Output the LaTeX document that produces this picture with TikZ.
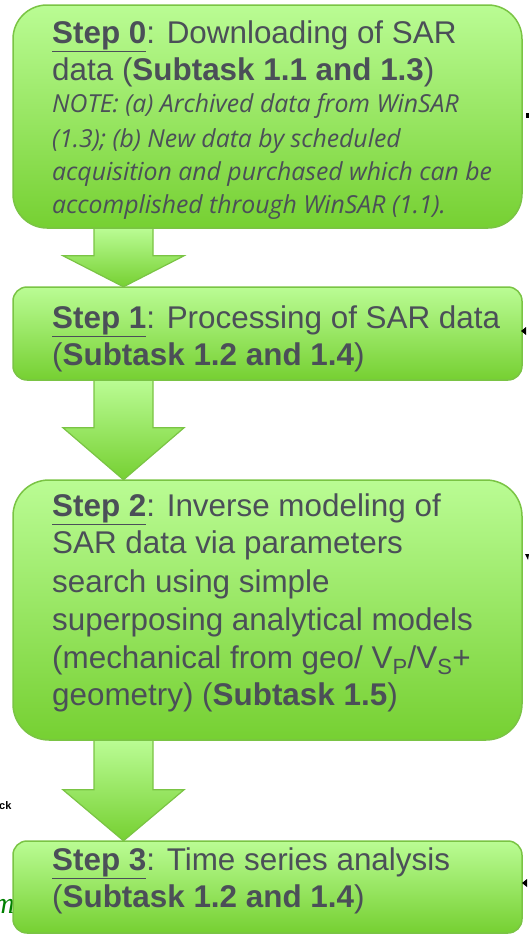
\documentclass[tikz,border=0pt]{standalone}
\usepackage{fontspec}
\setmainfont{Liberation Sans}
\newfontfamily\notefont{Open Sans}
\newfontfamily\serifit{Liberation Serif}
\usetikzlibrary{calc}
\definecolor{txt}{RGB}{75,79,88}
\definecolor{gtop}{RGB}{186,252,148}
\definecolor{gbot}{RGB}{118,208,50}
\definecolor{gline}{RGB}{122,196,68}
\definecolor{fragg}{RGB}{0,128,0}
\tikzset{
  box/.style={draw=gline, line width=1.5pt, top color=gtop, bottom color=gbot,
    minimum width=509pt, inner sep=0pt},
  ln/.style={anchor=base west, inner sep=0pt, text=txt, font=\fontsize{31.4}{37}\selectfont},
  nt/.style={anchor=base west, inner sep=0pt, text=txt, font=\notefont\itshape\fontsize{24.8}{30}\selectfont},
  barrow/.style={draw=gline, line width=1.2pt, top color=gtop, bottom color=gbot, line join=miter},
  frag/.style={fill=black, draw=none},
}
\newcommand\blockarrow[3]{%
  \draw[barrow] (sl |- #1.south) -- (sr |- #1.south)
    -- ($(sr |- #2.north)+(0,-#3)$) -- ($(hr |- #2.north)+(0,-#3)$)
    -- (ac |- #2.north)
    -- ($(hl |- #2.north)+(0,-#3)$) -- ($(sl |- #2.north)+(0,-#3)$) -- cycle;}
\begin{document}
\begin{tikzpicture}[x=1pt,y=-1pt]
\useasboundingbox (0,0) rectangle (529,937);
\clip (0,0) rectangle (529,937);
% helper coordinates for the block arrows
\coordinate (sl) at (94,0);
\coordinate (sr) at (153,0);
\coordinate (hl) at (63,0);
\coordinate (hr) at (184,0);
\coordinate (ac) at (123.5,0);
% fragments at the picture's left edge
\node[anchor=base west, inner sep=0pt, font=\bfseries\fontsize{11}{11}\selectfont] (fragck) at (-1,809) {ck};
\node[anchor=base east, inner sep=0pt, text=fragg, font=\serifit\itshape\fontsize{30}{30}\selectfont] (fragm) at (15,913) {m};
% boxes (geometry first, so arrows can refer to them)
\path (267.5,116.5) node[minimum width=509pt, minimum height=223pt, inner sep=0pt] (b0) {}
  (267.5,333.5) node[minimum width=509pt, minimum height=93pt, inner sep=0pt] (b1) {}
  (267.5,610) node[minimum width=509pt, minimum height=260pt, inner sep=0pt] (b2) {}
  (267.5,887) node[minimum width=509pt, minimum height=92pt, inner sep=0pt] (b3) {};
% arrows
\blockarrow{b0}{b1}{31}
\blockarrow{b1}{b2}{52}
\blockarrow{b2}{b3}{51}
% visible boxes
\node[box, rounded corners=34pt, minimum height=223pt] (box0) at (b0) {};
\node[box, rounded corners=14pt, minimum height=93pt] (box1) at (b1) {};
\node[box, rounded corners=36pt, minimum height=260pt] (box2) at (b2) {};
\node[box, rounded corners=14pt, minimum height=92pt] (box3) at (b3) {};
% texts
\node[ln] (t0a) at (52,43) {\underline{\textbf{Step 0}}: Downloading of SAR};
\node[ln] (t0b) at (52,80) {data (\textbf{Subtask 1.1 and 1.3})};
\node[nt] (t0c) at (52,112) {NOTE: (a) Archived data from WinSAR};
\node[nt] (t0d) at (52,147) {(1.3); (b) New data by scheduled};
\node[nt] (t0e) at (52,180) {acquisition and purchased which can be};
\node[nt] (t0f) at (52,213) {accomplished through WinSAR (1.1).};
\node[ln] (t1a) at (52,328) {\underline{\textbf{Step 1}}: Processing of SAR data};
\node[ln] (t1b) at (52,365) {(\textbf{Subtask 1.2 and 1.4})};
\node[ln] (t2a) at (52,516) {\underline{\textbf{Step 2}}: Inverse modeling of};
\node[ln] (t2b) at (52,553) {SAR data via parameters};
\node[ln] (t2c) at (52,592) {search using simple};
\node[ln] (t2d) at (52,630) {superposing analytical models};
\node[ln] (t2e) at (52,668) {(mechanical from geo/ V\textsubscript{P}/V\textsubscript{S}+};
\node[ln] (t2f) at (52,705) {geometry) (\textbf{Subtask 1.5})};
\node[ln] (t3a) at (52,870) {\underline{\textbf{Step 3}}: Time series analysis};
\node[ln] (t3b) at (52,907) {(\textbf{Subtask 1.2 and 1.4})};
% fragments at the picture's right edge
\fill[frag] (525.5,113) rectangle (528.5,118);
\fill[frag] (521,331) -- (526,327) -- (526,335) -- cycle;
\fill[frag] (525,554) -- (529,554) -- (528,560) -- cycle;
\fill[frag] (522,883) -- (527,879) -- (527,887) -- cycle;
\end{tikzpicture}
\end{document}
